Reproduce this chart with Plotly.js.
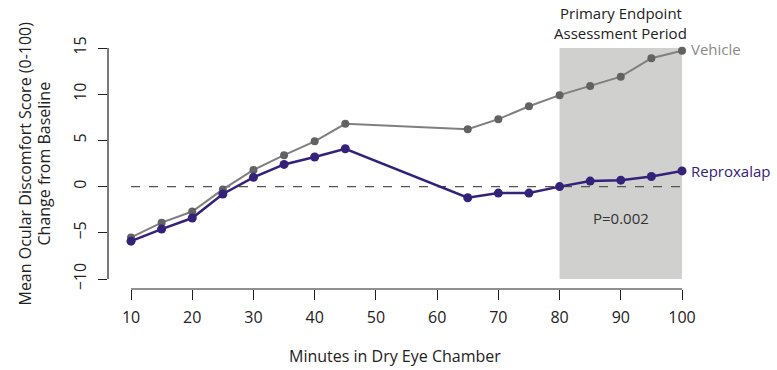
<!DOCTYPE html>
<html>
<head>
<meta charset="utf-8">
<script src="https://cdn.plot.ly/plotly-3.0.1.min.js"></script>
<style>html,body{margin:0;padding:0;background:#fff;}#chart{width:777px;height:370px;}</style>
</head>
<body>
<div id="chart"></div>
<script>
const minutes = [10, 15, 20, 25, 30, 35, 40, 45, 65, 70, 75, 80, 85, 90, 95, 100];
const vehicle = [-5.5, -3.9, -2.7, -0.3, 1.8, 3.4, 4.9, 6.8, 6.2, 7.3, 8.7, 9.9, 10.9, 11.9, 13.9, 14.7];
const reproxalap = [-5.9, -4.6, -3.4, -0.8, 1.0, 2.4, 3.2, 4.1, -1.2, -0.7, -0.7, 0.0, 0.6, 0.7, 1.1, 1.7];
const xTicks = [10, 20, 30, 40, 50, 60, 70, 80, 90, 100];
const yTicks = [-10, -5, 0, 5, 10, 15];

const font = "Open Sans, Noto Sans, sans-serif";
const grayLine = "#7f7f7f", grayMarker = "#626262", purple = "#33217a";

const traces = [
  {x: minutes, y: vehicle, type: "scatter", mode: "lines+markers", name: "Vehicle",
   line: {color: grayLine, width: 2}, marker: {color: grayMarker, size: 8}, cliponaxis: false},
  {x: minutes, y: reproxalap, type: "scatter", mode: "lines+markers", name: "Reproxalap",
   line: {color: purple, width: 2.5}, marker: {color: purple, size: 9}, cliponaxis: false}
];

const layout = {
  width: 777, height: 370,
  margin: {l: 108, r: 95, t: 48, b: 81},
  paper_bgcolor: "#fff", plot_bgcolor: "#fff",
  showlegend: false,
  font: {family: font, size: 16, color: "#222"},
  xaxis: {range: [6.24, 100], tickvals: xTicks, ticks: "outside", ticklen: 10, tickcolor: "#222",
          ticklabelstandoff: 4,
          showgrid: false, zeroline: false, showline: false, tickfont: {size: 16, color: "#222"}},
  yaxis: {range: [-11.08, 15], tickvals: yTicks, ticks: "outside", ticklen: 9, tickcolor: "#222",
          ticklabelstandoff: 6,
          tickangle: -90, showgrid: false, zeroline: false, showline: false, tickfont: {size: 16, color: "#222"}},
  shapes: [
    {type: "rect", layer: "below", xref: "x", yref: "y", x0: 80, x1: 100, y0: -10, y1: 15,
     fillcolor: "#d0d0ce", line: {width: 0}},
    {type: "line", xref: "x", yref: "y", x0: 10, x1: 100, y0: 0, y1: 0,
     line: {color: "#555", width: 1.2, dash: "dash"}, layer: "below"},
    {type: "line", xref: "paper", yref: "y", x0: 0, x1: 0, y0: -10, y1: 15,
     line: {color: "#222", width: 1.2}},
    {type: "line", xref: "x", yref: "paper", x0: 10, x1: 100, y0: 0, y1: 0,
     line: {color: "#222", width: 1.2}}
  ],
  annotations: [
    {text: "Primary Endpoint", xref: "x", yref: "paper", x: 90, y: 1, yshift: 35,
     xanchor: "center", yanchor: "middle", showarrow: false, font: {size: 15, color: "#222"}},
    {text: "Assessment Period", xref: "x", yref: "paper", x: 90, y: 1, yshift: 15,
     xanchor: "center", yanchor: "middle", showarrow: false, font: {size: 15, color: "#222"}},
    {text: "Vehicle", xref: "paper", yref: "y", x: 1, xshift: 7, y: 14.9, xanchor: "left", yanchor: "middle",
     showarrow: false, font: {size: 15, color: "#8a8a8a"}},
    {text: "Reproxalap", xref: "paper", yref: "y", x: 1, xshift: 7, y: 1.7, xanchor: "left", yanchor: "middle",
     showarrow: false, font: {size: 15, color: purple}},
    {text: "P=0.002", xref: "x", yref: "y", x: 90, y: -3.4, xanchor: "center", yanchor: "middle",
     showarrow: false, font: {size: 15, color: "#333"}},
    {text: "Minutes in Dry Eye Chamber", xref: "paper", yref: "paper", x: 0.5, y: 0, yshift: -67,
     xanchor: "center", yanchor: "middle", showarrow: false, font: {size: 16, color: "#222"}},
    {text: "Mean Ocular Discomfort Score (0-100)", xref: "paper", yref: "y",
     x: 0, xshift: -83, y: 2.5, xanchor: "center", yanchor: "middle", textangle: -90,
     showarrow: false, font: {size: 16, color: "#222"}},
    {text: "Change from Baseline", xref: "paper", yref: "y",
     x: 0, xshift: -64, y: 2.5, xanchor: "center", yanchor: "middle", textangle: -90,
     showarrow: false, font: {size: 16, color: "#222"}}
  ]
};

Plotly.newPlot("chart", traces, layout, {displayModeBar: false, staticPlot: true});
</script>
</body>
</html>
